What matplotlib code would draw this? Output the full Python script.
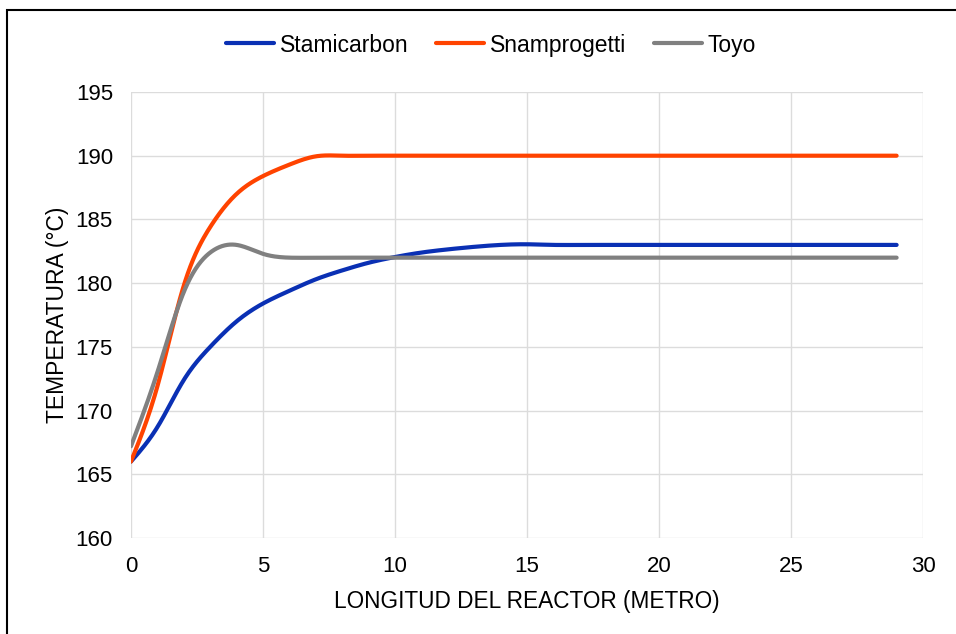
import numpy as np
import matplotlib.pyplot as plt
from matplotlib.patches import Rectangle

plt.rcParams["font.family"] = ["Liberation Sans", "DejaVu Sans"]

# longitud del reactor (m)
longitud = list(range(0, 30))

stamicarbon = [166.0, 168.7, 172.4, 175.0, 177.0, 178.4, 179.4, 180.3, 181.0, 181.6,
               182.05, 182.4, 182.65, 182.85, 183.0, 183.05, 183.0, 183.0, 183.0, 183.0,
               183.0, 183.0, 183.0, 183.0, 183.0, 183.0, 183.0, 183.0, 183.0, 183.0]
snamprogetti = [166.0, 171.9, 179.8, 184.4, 187.0, 188.4, 189.3, 189.95, 190.0, 190.0,
                190.0, 190.0, 190.0, 190.0, 190.0, 190.0, 190.0, 190.0, 190.0, 190.0,
                190.0, 190.0, 190.0, 190.0, 190.0, 190.0, 190.0, 190.0, 190.0, 190.0]
toyo = [167.2, 173.0, 179.3, 182.4, 183.0, 182.3, 182.0, 182.0, 182.0, 182.0,
        182.0, 182.0, 182.0, 182.0, 182.0, 182.0, 182.0, 182.0, 182.0, 182.0,
        182.0, 182.0, 182.0, 182.0, 182.0, 182.0, 182.0, 182.0, 182.0, 182.0]

series = ["Stamicarbon", "Snamprogetti", "Toyo"]
colores = ["#0a30b4", "#ff4300", "#808080"]


def smooth(x, y, n=20):
    # natural cubic spline, like the "smooth line" option of the spreadsheet
    x = np.asarray(x, float)
    y = np.asarray(y, float)
    h = np.diff(x)
    m = len(x)
    A = np.zeros((m, m))
    b = np.zeros(m)
    A[0, 0] = A[-1, -1] = 1
    for i in range(1, m - 1):
        A[i, i - 1] = h[i - 1]
        A[i, i] = 2 * (h[i - 1] + h[i])
        A[i, i + 1] = h[i]
        b[i] = 6 * ((y[i + 1] - y[i]) / h[i] - (y[i] - y[i - 1]) / h[i - 1])
    M = np.linalg.solve(A, b)
    xs, ys = [], []
    for i in range(m - 1):
        t = np.linspace(x[i], x[i + 1], n, endpoint=False)
        a = (x[i + 1] - t) / h[i]
        c = (t - x[i]) / h[i]
        yy = (a * y[i] + c * y[i + 1]
              + ((a ** 3 - a) * M[i] + (c ** 3 - c) * M[i + 1]) * h[i] ** 2 / 6)
        xs.extend(t)
        ys.extend(yy)
    xs.append(x[-1])
    ys.append(y[-1])
    return xs, ys


fig = plt.figure(figsize=(9.56, 6.34), dpi=100)
ax = fig.add_axes([0.137, 0.1514, 0.8285, 0.7035])

for nombre, valores, color in zip(series, [stamicarbon, snamprogetti, toyo], colores):
    xs, ys = smooth(longitud, valores)
    ax.plot(xs, ys, color=color, lw=3, label=nombre, solid_capstyle="round")

ax.set_xlim(0, 30)
ax.set_ylim(160, 195)
ax.set_xticks(range(0, 31, 5))
ax.set_yticks(range(160, 196, 5))
ax.grid(True, color="#dcdcdc", lw=1)
ax.set_axisbelow(True)
for s in ax.spines.values():
    s.set_visible(False)
ax.tick_params(labelsize=16, length=0)
ax.tick_params(axis="x", pad=13)
ax.tick_params(axis="y", pad=13)

ax.set_xlabel("LONGITUD DEL REACTOR (METRO)", fontsize=16.3, labelpad=9)
ax.set_ylabel("TEMPERATURA (°C)", fontsize=16.5, labelpad=5)

fig.legend(loc="center", bbox_to_anchor=(0.5136, 0.929), ncol=3, frameon=False,
           fontsize=16.5, handlelength=2.1, handletextpad=0.25, columnspacing=1.2)

# marco exterior
fig.patches.append(Rectangle((7 / 956, -0.1), 1.2, 1 - 10 / 634 + 0.1,
                             transform=fig.transFigure, fill=False,
                             edgecolor="black", lw=1.5))

fig.savefig("out.png", dpi=100)
